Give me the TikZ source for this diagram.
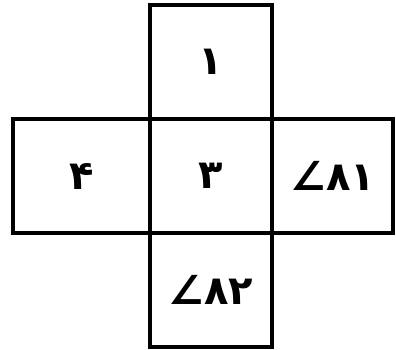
\documentclass[tikz,border=0pt]{standalone}
\usepackage{fontspec}
\newfontfamily\arabicfont[Script=Arabic]{DejaVu Sans}
\newfontfamily\symbfont{DejaVu Sans}
\newcommand{\ang}{{\symbfont\bfseries ∠}}
\usetikzlibrary{positioning}

\begin{document}
\begin{tikzpicture}[x=1pt, y=1pt,
    cell/.style={draw, line width=4.5pt, minimum width=122pt, minimum height=114pt,
      inner sep=0pt, outer sep=0pt, font=\arabicfont\bfseries\fontsize{40}{44}\selectfont},
    node distance=0pt]
  \useasboundingbox (0,0) rectangle (396,349);

  % middle cell and its neighbours
  \node[cell] (mid) at (211,173) {۳};
  \node[cell, above=of mid] (top) {۱};
  \node[cell, below=of mid] (bot) {\ang{}۸۲};
  \node[cell, left=of mid, minimum width=137pt] (lft) {۴};
  \node[cell, right=of mid, minimum width=121pt] (rgt) {\ang{}۸۱};
\end{tikzpicture}
\end{document}
